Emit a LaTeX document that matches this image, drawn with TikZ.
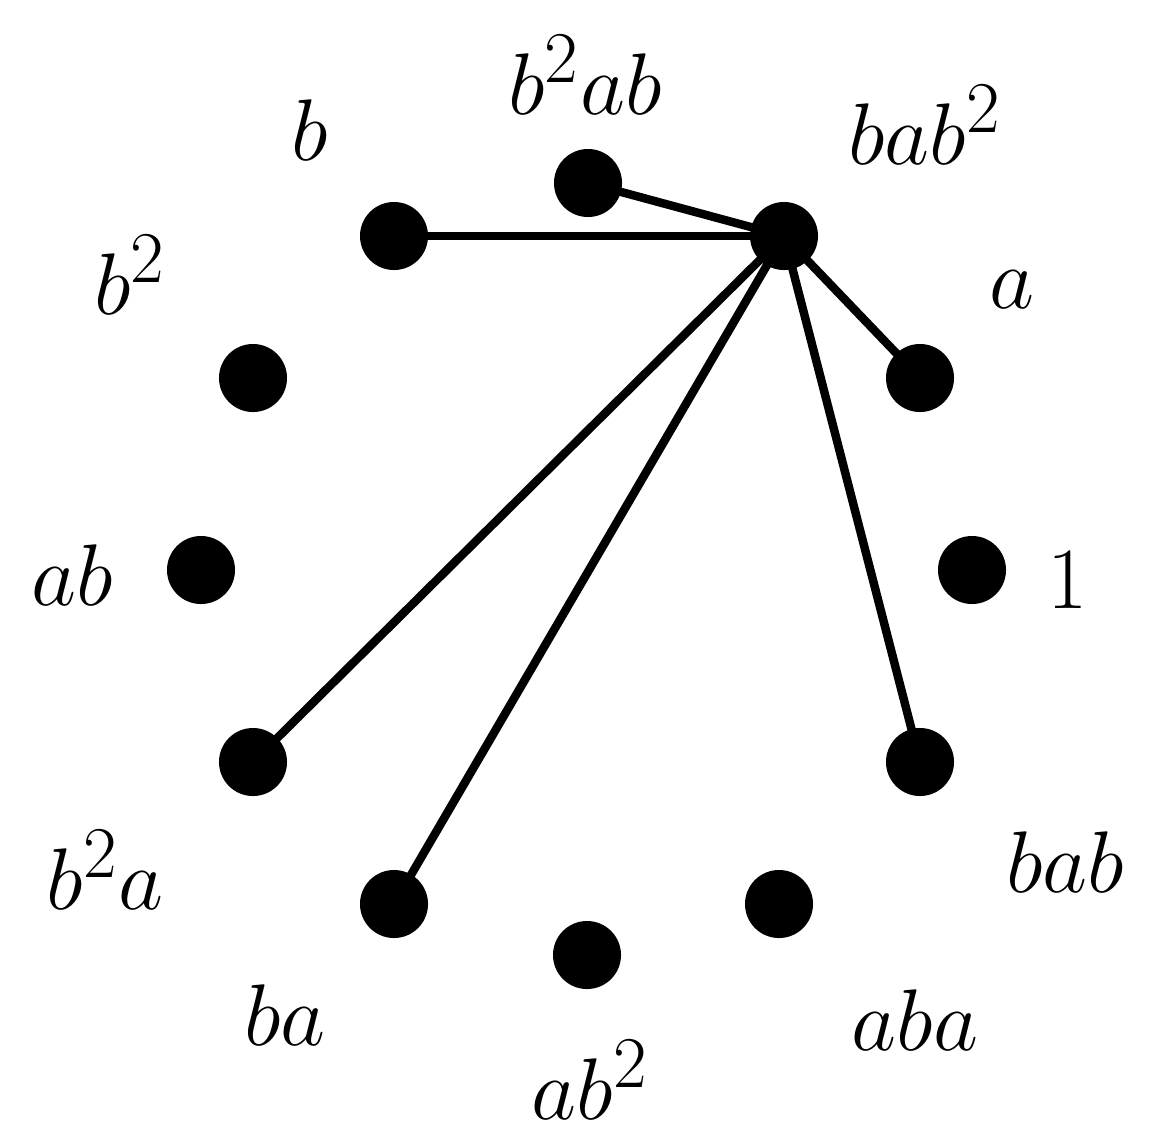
\documentclass[tikz,border=0pt]{standalone}
\begin{document}
\begin{tikzpicture}[x=0.01cm,y=-0.01cm,
  dot/.style={circle,fill=black,minimum size=0.68cm,inner sep=0pt},
  lbl/.style={font=\fontsize{30}{32}\selectfont},
  edge/.style={line width=2.4pt}]
\useasboundingbox (0,0) rectangle (1164,1145);
\node[dot] (one) at (972,570) {};
\node[dot] (a) at (920,378) {};
\node[dot] (bab2) at (784,236) {};
\node[dot] (b2ab) at (588,183) {};
\node[dot] (b) at (394,236) {};
\node[dot] (b2) at (253,378) {};
\node[dot] (ab) at (201,570) {};
\node[dot] (b2a) at (253,762) {};
\node[dot] (ba) at (394,904) {};
\node[dot] (ab2) at (587,955) {};
\node[dot] (aba) at (779,904) {};
\node[dot] (bab) at (920,762) {};
\node[lbl] (lone) at (1068,580) {$1$};
\node[lbl] (la) at (1012,290) {$a$};
\node[lbl] (lbab2) at (925,125) {$bab^2$};
\node[lbl] (lb2ab) at (585,75) {$b^2ab$};
\node[lbl] (lb) at (310,130) {$b$};
\node[lbl] (lb2) at (130,275) {$b^2$};
\node[lbl] (lab) at (72,575) {$ab$};
\node[lbl] (lb2a) at (105,870) {$b^2a$};
\node[lbl] (lba) at (285,1015) {$ba$};
\node[lbl] (lab2) at (590,1080) {$ab^2$};
\node[lbl] (laba) at (915,1020) {$aba$};
\node[lbl] (lbab) at (1065,862) {$bab$};
\foreach \t in {b2ab,b,a,b2a,ba,bab} \draw[edge] (bab2.center) -- (\t.center);
\end{tikzpicture}
\end{document}
